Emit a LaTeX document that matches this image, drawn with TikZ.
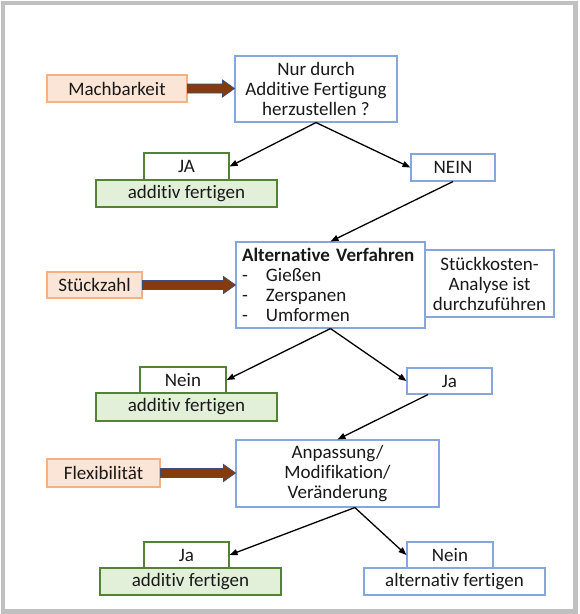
\documentclass[tikz,border=0pt]{standalone}
\usepackage{fontspec}
\setmainfont{Carlito}[Ligatures=NoCommon]
\usetikzlibrary{calc,arrows.meta}
\definecolor{orfill}{HTML}{FBE5D6}
\definecolor{ordraw}{HTML}{F4B183}
\definecolor{grfill}{HTML}{E2F0D9}
\definecolor{grdraw}{HTML}{548235}
\definecolor{bldraw}{HTML}{86A6DE}
\definecolor{brownfill}{HTML}{843C0C}
\definecolor{brownline}{HTML}{3B4F7A}
\definecolor{framegray}{HTML}{C0C0C0}
\tikzset{
  base/.style={rectangle, line width=1.1pt, inner sep=0pt, align=center,
    font=\fontsize{19}{20}\selectfont, text=black!90},
  orbox/.style={base, fill=orfill, draw=ordraw},
  grbox/.style={base, fill=grfill, draw=grdraw},
  gwbox/.style={base, fill=white, draw=grdraw},
  blbox/.style={base, fill=white, draw=bldraw},
  conn/.style={line width=1.3pt, -{Triangle[length=8pt,width=6pt]}},
  fatarr/.style={fill=brownfill, draw=brownline, line width=0.8pt, line join=miter},
}
\newcommand\fatarrow[2]{%
  \coordinate (tip#1) at (#2.west |- #1.east);
  \draw[fatarr] ($(#1.east)+(0,-4.5)$) -- ($(tip#1)+(-12,-4.5)$) -- ($(tip#1)+(-12,-8.5)$)
    -- (tip#1) -- ($(tip#1)+(-12,8.5)$) -- ($(tip#1)+(-12,4.5)$) -- ($(#1.east)+(0,4.5)$) -- cycle;}
\begin{document}
\begin{tikzpicture}[x=1pt,y=-1pt]
\useasboundingbox (0,0) rectangle (580,614);
\fill[white] (0,0) rectangle (580,614);
\draw[framegray, line width=4.5pt] (3,3) rectangle (575.5,611.5);

% level 1
\node[orbox, minimum width=140pt, minimum height=27pt] (mach) at (117,88.5) {Machbarkeit};
\node[blbox, minimum width=162pt, minimum height=66pt] (q1) at (316,89) {Nur durch\\Additive Fertigung\\herzustellen ?};
\node[gwbox, minimum width=85pt, minimum height=27pt] (ja1) at (186.5,166.5) {JA};
\node[grbox, minimum width=181pt, minimum height=27pt] (add1) at (186.5,193.5) {additiv fertigen};
\node[blbox, minimum width=84pt, minimum height=27pt] (nein1) at (453,167.5) {NEIN};

% level 2
\node[blbox, minimum width=189pt, minimum height=86pt, text width=177pt, align=left] (alt) at (330.5,285)
  {\textbf{Alternative Verfahren}\\\makebox[24pt][l]{-}Gießen\\\makebox[24pt][l]{-}Zerspanen\\\makebox[24pt][l]{-}Umformen};
\node[blbox, minimum width=129pt, minimum height=67pt] (kost) at (489.5,283.5) {Stückkosten-\\Analyse ist\\durchzuführen};
\node[orbox, minimum width=95pt, minimum height=26pt] (stz) at (94.5,285) {Stückzahl};
\node[gwbox, minimum width=86pt, minimum height=26pt] (nein2) at (183,380) {Nein};
\node[grbox, minimum width=181pt, minimum height=28pt] (add2) at (186.5,407) {additiv fertigen};
\node[blbox, minimum width=85pt, minimum height=26pt] (ja2) at (449.5,381) {Ja};

% level 3
\node[blbox, minimum width=203pt, minimum height=67pt] (anp) at (337.5,473.5) {Anpassung/\\Modifikation/\\Veränderung};
\node[orbox, minimum width=113pt, minimum height=28pt] (flex) at (103.5,473) {Flexibilität};
\node[gwbox, minimum width=85pt, minimum height=26pt] (ja3) at (186.5,555) {Ja};
\node[grbox, minimum width=181pt, minimum height=27pt] (add3) at (190.5,581.5) {additiv fertigen};
\node[blbox, minimum width=86pt, minimum height=26pt] (nein3) at (450,555) {Nein};
\node[blbox, minimum width=181pt, minimum height=27pt] (alt3) at (454.5,581.5) {alternativ fertigen};

% fat arrows
\fatarrow{mach}{q1}
\fatarrow{stz}{alt}
\fatarrow{flex}{anp}

% connectors
\draw[conn] (q1.south) -- (ja1.east);
\draw[conn] (q1.south) -- (nein1.west);
\draw[conn] (nein1.south) -- (alt.north);
\draw[conn] (alt.south) -- (nein2.east);
\draw[conn] (alt.south) -- (ja2.west);
\draw[conn] ($(ja2.south west)!0.25!(ja2.south east)$) -- (anp.north);
\draw[conn] ($(anp.south west)!0.585!(anp.south east)$) -- (ja3.east);
\draw[conn] ($(anp.south west)!0.585!(anp.south east)$) -- (nein3.west);
\end{tikzpicture}
\end{document}
